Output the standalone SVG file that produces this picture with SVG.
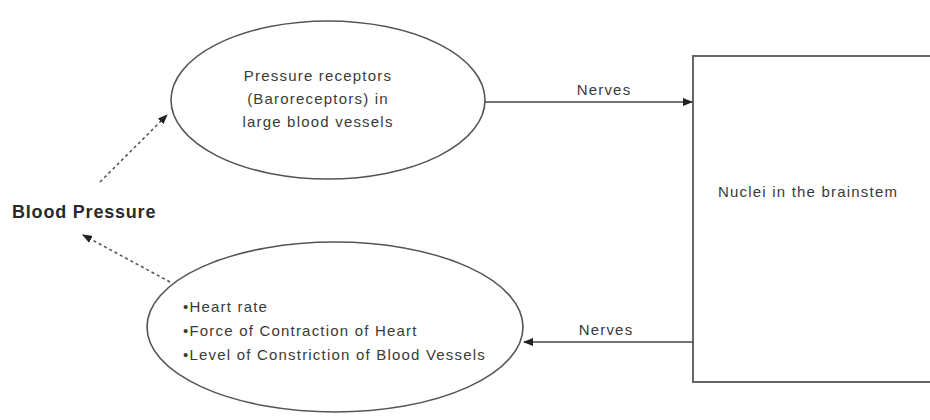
<svg xmlns="http://www.w3.org/2000/svg" width="930" height="420" viewBox="0 0 930 420">
<defs>
<style>
.shape{fill:#fff;stroke:#555;stroke-width:1.6}
.box{fill:#fff;stroke:#666;stroke-width:2}
.t{font-family:"Liberation Sans",Arial,sans-serif;font-size:15px;fill:#3a3a3a;letter-spacing:1.2px}
.bp{font-family:"Liberation Sans",Arial,sans-serif;font-size:18px;font-weight:bold;fill:#2a2a2a;letter-spacing:0.8px}
.solid{stroke:#444;stroke-width:1.6;fill:none}
.dot{stroke:#555;stroke-width:1.6;fill:none;stroke-dasharray:3 3}
</style>
<marker id="ah" markerWidth="10" markerHeight="8" refX="9" refY="4" orient="auto" markerUnits="userSpaceOnUse">
<path d="M0,0 L10,4 L0,8 Z" fill="#222"/>
</marker>
</defs>
<rect width="930" height="420" fill="#fff"/>
<g id="baroreceptors">
<ellipse class="shape" cx="328" cy="100" rx="157" ry="79"/>
<text class="t" x="318" y="81" text-anchor="middle">Pressure receptors</text>
<text class="t" x="318" y="104" text-anchor="middle">(Baroreceptors) in</text>
<text class="t" x="318" y="127" text-anchor="middle">large blood vessels</text>
</g>
<g id="brainstem">
<rect class="box" x="693" y="56" width="260" height="326"/>
<text class="t" x="718" y="197">Nuclei in the brainstem</text>
</g>
<g id="effectors">
<ellipse class="shape" cx="335" cy="327" rx="188" ry="85"/>
<text class="t" x="183" y="312">•Heart rate</text>
<text class="t" x="183" y="336">•Force of Contraction of Heart</text>
<text class="t" x="183" y="360">•Level of Constriction of Blood Vessels</text>
</g>
<g id="blood-pressure">
<text class="bp" x="12" y="218">Blood Pressure</text>
</g>
<g id="connectors">
<line class="solid" x1="485" y1="102" x2="692" y2="102" marker-end="url(#ah)"/>
<text class="t" x="604" y="95" text-anchor="middle">Nerves</text>
<line class="solid" x1="693" y1="342" x2="524" y2="342" marker-end="url(#ah)"/>
<text class="t" x="606" y="335" text-anchor="middle">Nerves</text>
<line class="dot" x1="100" y1="182" x2="167" y2="115" marker-end="url(#ah)"/>
<line class="dot" x1="170" y1="282" x2="83" y2="235" marker-end="url(#ah)"/>
</g>
</svg>
